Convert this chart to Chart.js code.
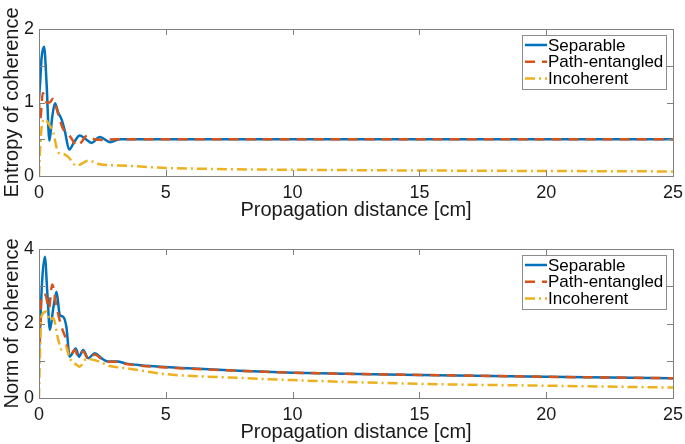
<!DOCTYPE html>
<html><head><meta charset="utf-8">
<script src="https://cdn.jsdelivr.net/npm/chart.js@4"></script>
<style>html,body{margin:0;padding:0;background:#fff;} .w{width:685px;height:222px;position:relative;} canvas{display:block;}</style>
</head><body>
<div class="w"><canvas id="c1" width="685" height="222"></canvas></div>
<div class="w"><canvas id="c2" width="685" height="222"></canvas></div>
<script>
const seriesNames = ['Separable', 'Path-entangled', 'Incoherent'];
const xTitle = 'Propagation distance [cm]';
const xTickLabels = [0, 5, 10, 15, 20, 25];
const entropyTickLabels = [0, 1, 2];
const normTickLabels = [0, 2, 4];

// Entropy of coherence
const entSepX = [0, 0.05, 0.1, 0.2, 0.3, 0.41, 0.52, 0.63, 0.76, 0.89, 1.02, 1.19, 1.4, 1.61, 1.85, 2.07, 2.4, 2.8, 3.2, 4, 6, 10, 15, 20, 25];
const entSepY = [1.05, 1.3, 1.6, 1.76, 1.25, 0.48, 0.8, 0.99, 0.86, 0.77, 0.61, 0.36, 0.47, 0.55, 0.5, 0.45, 0.53, 0.46, 0.5, 0.5, 0.5, 0.5, 0.5, 0.5, 0.5];
const entPathX = [0, 0.05, 0.15, 0.3, 0.42, 0.55, 0.75, 0.95, 1.1, 1.3, 1.5, 1.65, 1.9, 2.2, 2.6, 3, 5, 10, 15, 20, 25];
const entPathY = [1.0, 0.78, 1.13, 1.0, 1.0, 1.05, 0.85, 0.64, 0.6, 0.5, 0.41, 0.45, 0.55, 0.5, 0.49, 0.5, 0.5, 0.5, 0.5, 0.5, 0.5];
const entIncX = [0, 0.04, 0.1, 0.22, 0.4, 0.56, 0.76, 0.96, 1.15, 1.48, 1.7, 1.94, 2.4, 3.5, 4.4, 5, 7, 10, 15, 20, 25];
const entIncY = [0, 0.35, 0.65, 0.77, 0.7, 0.59, 0.32, 0.3, 0.26, 0.14, 0.17, 0.21, 0.16, 0.14, 0.12, 0.11, 0.095, 0.085, 0.075, 0.068, 0.062];

// Norm of coherence
const normSepX = [0, 0.05, 0.12, 0.23, 0.33, 0.43, 0.56, 0.69, 0.82, 0.95, 1.08, 1.21, 1.45, 1.58, 1.74, 1.94, 2.2, 2.46, 2.72, 3.1, 3.4, 4, 5, 7.9, 10, 15, 20, 25];
const normSepY = [1.3, 2.0, 3.1, 3.79, 2.8, 1.83, 2.4, 2.85, 2.23, 2.18, 1.91, 1.11, 1.33, 1.11, 1.29, 1.07, 1.2, 1.07, 0.98, 0.98, 0.93, 0.88, 0.83, 0.73, 0.68, 0.62, 0.57, 0.53];
const normPathX = [0, 0.03, 0.1, 0.25, 0.39, 0.52, 0.69, 0.89, 1.05, 1.21, 1.41, 1.55, 1.74, 1.94, 2.2, 2.46, 2.72, 3.1, 3.4, 4, 5, 7.9, 10, 15, 20, 25];
const normPathY = [1.0, 1.5, 2.75, 2.77, 2.4, 3.05, 2.45, 1.91, 1.6, 1.11, 1.29, 1.11, 1.25, 1.05, 1.17, 1.05, 0.97, 0.97, 0.92, 0.87, 0.82, 0.73, 0.68, 0.62, 0.57, 0.53];
const normIncX = [0, 0.03, 0.1, 0.3, 0.43, 0.56, 0.76, 0.89, 1.05, 1.21, 1.48, 1.6, 1.87, 2.1, 2.4, 2.79, 3.44, 5, 7.9, 10, 15, 20, 25];
const normIncY = [0, 1.0, 2.2, 2.32, 2.09, 2.15, 1.56, 1.3, 1.38, 1.07, 0.89, 0.84, 1.05, 1.03, 0.97, 0.86, 0.8, 0.64, 0.54, 0.48, 0.38, 0.33, 0.28];

const COLORS = ['#0072BD', '#D95319', '#EDB120'];
const DASHES = [[], [10, 7], [10, 4, 2, 4]];
const FONT = '"Liberation Sans", Arial, Helvetica, sans-serif';
const AXIS_COLOR = '#808080';

function pts(xs, ys) { return xs.map((x, i) => ({ x: x, y: ys[i] })); }

const framePlugin = {
  id: 'frame',
  afterDraw(chart) {
    const ctx = chart.ctx, a = chart.chartArea;
    const xs = chart.scales.x, ys = chart.scales.y;
    ctx.save();
    ctx.strokeStyle = AXIS_COLOR;
    ctx.lineWidth = 1;
    ctx.strokeRect(Math.round(a.left) + 0.5, Math.round(a.top) + 0.5, Math.round(a.right - a.left), Math.round(a.bottom - a.top));
    const L = 6;
    ctx.beginPath();
    xs.ticks.forEach(t => {
      const px = Math.round(xs.getPixelForValue(t.value)) + 0.5;
      ctx.moveTo(px, a.bottom); ctx.lineTo(px, a.bottom - L);
      ctx.moveTo(px, a.top); ctx.lineTo(px, a.top + L);
    });
    ys.ticks.forEach(t => {
      const py = Math.round(ys.getPixelForValue(t.value)) + 0.5;
      ctx.moveTo(a.left, py); ctx.lineTo(a.left + L, py);
      ctx.moveTo(a.right, py); ctx.lineTo(a.right - L, py);
    });
    ctx.stroke();

    // legend box
    const bw = 144, bh = 54;
    const bx = Math.round(a.right - 7 - bw), by = Math.round(a.top + 6);
    ctx.fillStyle = '#fff';
    ctx.fillRect(bx, by, bw, bh);
    ctx.strokeStyle = '#8c8c8c';
    ctx.strokeRect(bx + 0.5, by + 0.5, bw, bh);
    ctx.font = '17px ' + FONT;
    ctx.textBaseline = 'middle';
    ctx.textAlign = 'left';
    chart.data.datasets.forEach((ds, i) => {
      const yy = by + 10 + i * 16.7;
      ctx.beginPath();
      ctx.setLineDash(ds.borderDash || []);
      ctx.strokeStyle = ds.borderColor;
      ctx.lineWidth = 2.5;
      ctx.moveTo(bx + 3, yy); ctx.lineTo(bx + 25, yy);
      ctx.stroke();
      ctx.setLineDash([]);
      ctx.fillStyle = '#000';
      ctx.fillText(ds.label, bx + 26, yy + 1);
    });
    ctx.restore();
  }
};

function makeChart(id, yTitle, yMax, yStep, yLabels, padTop, series) {
  const datasets = series.map((s, i) => ({
    label: seriesNames[i],
    data: pts(s[0], s[1]),
    borderColor: COLORS[i],
    backgroundColor: COLORS[i],
    borderDash: DASHES[i],
    borderWidth: 2.5,
    pointRadius: 0,
    fill: false,
    cubicInterpolationMode: 'monotone',
    order: 3 - i
  }));
  return new Chart(document.getElementById(id), {
    type: 'line',
    data: { datasets },
    options: {
      responsive: false,
      animation: false,
      devicePixelRatio: 1,
      layout: { padding: { top: padTop, right: 12, left: 0, bottom: 0 } },
      plugins: { legend: { display: false }, tooltip: { enabled: false } },
      scales: {
        x: {
          type: 'linear', min: 0, max: 25,
          afterFit(s) { s.height = 46; s.paddingRight = 0; },
          grid: { display: false, drawTicks: false },
          border: { display: false },
          ticks: {
            stepSize: 5, padding: 6, color: '#1a1a1a', maxRotation: 0,
            font: { family: FONT, size: 18 },
            callback: v => xTickLabels.includes(v) ? String(v) : ''
          },
          title: { display: true, text: xTitle, color: '#1a1a1a', font: { family: FONT, size: 20 }, padding: { top: 0, bottom: 0 } }
        },
        y: {
          type: 'linear', min: 0, max: yMax,
          afterFit(s) { s.width = 39; },
          grid: { display: false, drawTicks: false },
          border: { display: false },
          ticks: {
            stepSize: yStep, padding: 5, color: '#1a1a1a',
            font: { family: FONT, size: 18 },
            callback: v => yLabels.includes(v) ? String(v) : ''
          },
          title: { display: true, text: yTitle, color: '#1a1a1a', font: { family: FONT, size: 20 }, padding: { top: 0, bottom: 0 } }
        }
      }
    },
    plugins: [framePlugin]
  });
}

makeChart('c1', 'Entropy of coherence', 2, 0.5, entropyTickLabels, 29,
  [[entSepX, entSepY], [entPathX, entPathY], [entIncX, entIncY]]);
makeChart('c2', 'Norm of coherence', 4, 1, normTickLabels, 27,
  [[normSepX, normSepY], [normPathX, normPathY], [normIncX, normIncY]]);
</script>
</body></html>
